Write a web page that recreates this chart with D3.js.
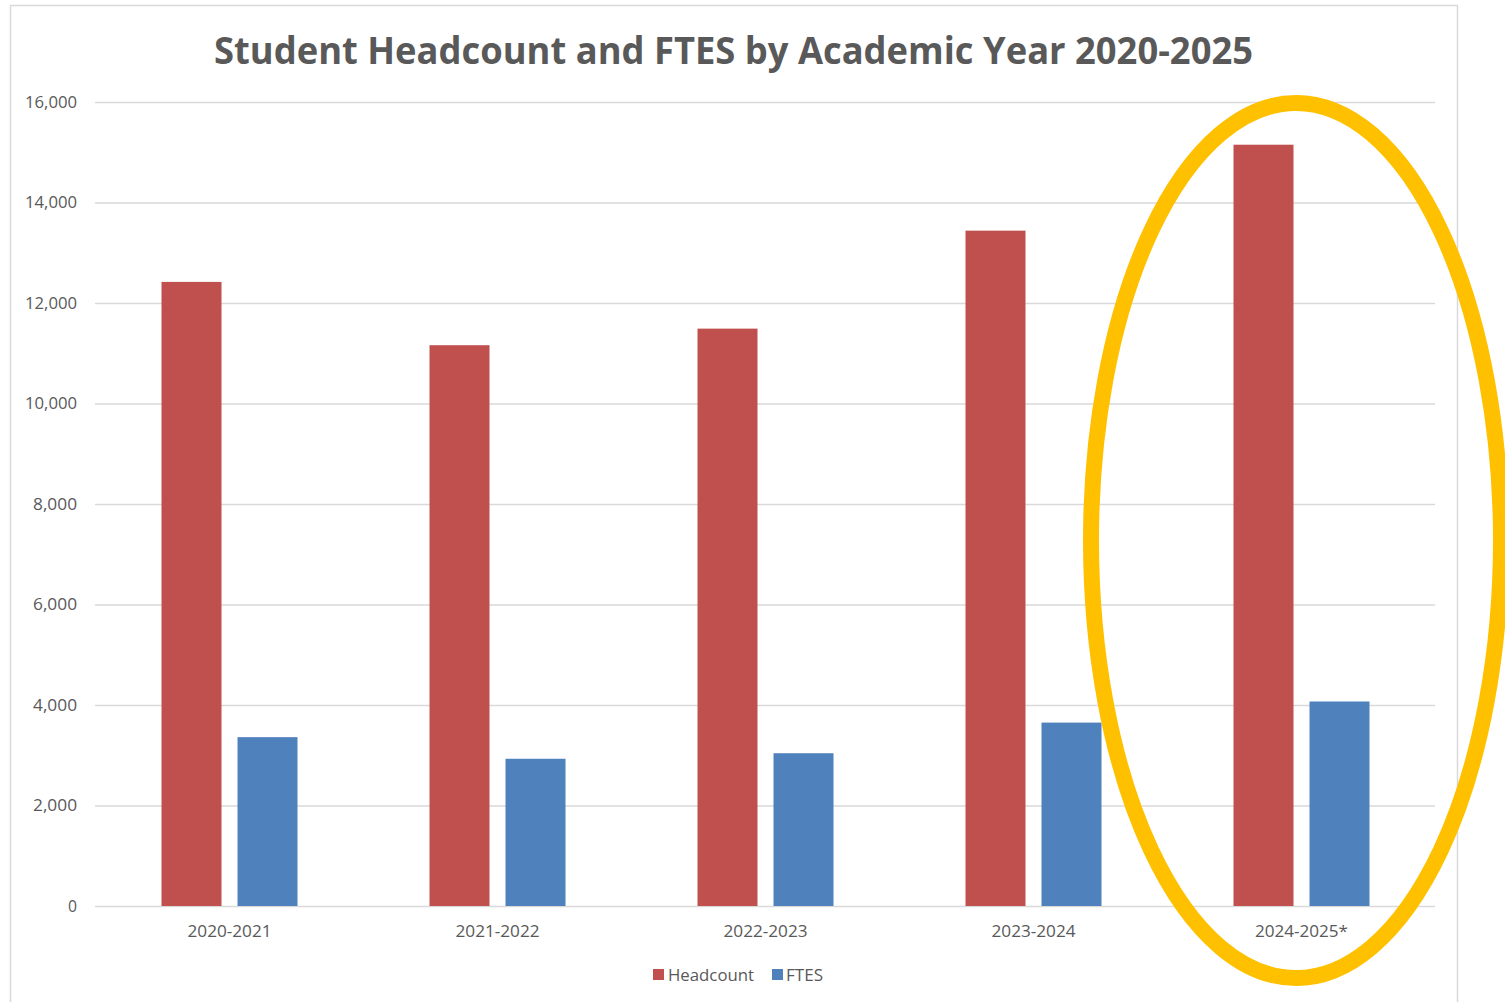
<!DOCTYPE html>
<html>
<head>
<meta charset="utf-8">
<script src="https://cdn.jsdelivr.net/npm/d3@7"></script>
<style>
  html, body { margin: 0; padding: 0; background: #ffffff; }
  svg { display: block; }
  text { font-family: "Open Sans", "Noto Sans", sans-serif; fill: #595959; }
</style>
</head>
<body>
<svg id="chart" width="1505" height="1002"></svg>
<script>
const categories = ["2020-2021", "2021-2022", "2022-2023", "2023-2024", "2024-2025*"];
const seriesNames = ["Headcount", "FTES"];
const headcount = [12420, 11160, 11490, 13440, 15150];
const ftes = [3360, 2930, 3040, 3650, 4070];
const yTicks = [0, 2000, 4000, 6000, 8000, 10000, 12000, 14000, 16000];
const colors = ["#C0504D", "#4F81BD"];
const titleText = "Student Headcount and FTES by Academic Year 2020-2025";

const svg = d3.select("#chart");
const W = 1505, H = 1002;
const plot = { left: 95, right: 1435, top: 102, bottom: 906 };

svg.append("rect").attr("x", 0).attr("y", 0).attr("width", W).attr("height", H).attr("fill", "#fff");
// chart frame
svg.append("rect").attr("x", 10.5).attr("y", 5.5).attr("width", 1447).attr("height", 1010)
  .attr("fill", "none").attr("stroke", "#d9d9d9").attr("stroke-width", 1.5);

// title
svg.append("text").attr("x", 733.5).attr("y", 64).attr("text-anchor", "middle")
  .attr("font-size", 37).attr("font-weight", "bold").attr("fill", "#595959")
  .attr("textLength", 1039).attr("lengthAdjust", "spacingAndGlyphs")
  .text(titleText);

const y = d3.scaleLinear().domain([0, 16000]).range([plot.bottom, plot.top]);
const x0 = d3.scaleBand().domain(categories).range([plot.left, plot.right]).paddingInner(0).paddingOuter(0);
const groupW = 136;
const x1 = d3.scaleBand().domain(seriesNames).range([0, groupW]).paddingInner(0.2105).paddingOuter(0);

// gridlines
const yAxis = d3.axisLeft(y).tickValues(yTicks).tickSize(-(plot.right - plot.left)).tickPadding(18)
  .tickFormat(d3.format(","));
const gy = svg.append("g").attr("transform", `translate(${plot.left},0)`).call(yAxis);
gy.select(".domain").remove();
gy.selectAll(".tick line").attr("stroke", "#d9d9d9").attr("stroke-width", 1.5);
gy.selectAll(".tick text").attr("font-size", 16).attr("fill", "#595959")
  .attr("font-family", "'Open Sans', 'Noto Sans', sans-serif")
  .each(function(d) {
    const s = d3.format(",")(d);
    const len = s.length === 1 ? 9 : (s.length === 5 ? 44 : 52);
    d3.select(this).attr("textLength", len).attr("lengthAdjust", "spacingAndGlyphs");
  });

// bars
const data = categories.map((c, i) => ({ cat: c, vals: [
  { key: "Headcount", v: headcount[i] }, { key: "FTES", v: ftes[i] }] }));
const offset = (x0.bandwidth() - groupW) / 2;
const groups = svg.append("g").selectAll("g").data(data).join("g")
  .attr("transform", d => `translate(${x0(d.cat) + offset + 0.5},0)`);
groups.selectAll("rect").data(d => d.vals).join("rect")
  .attr("x", d => x1(d.key))
  .attr("y", d => y(d.v))
  .attr("width", x1.bandwidth())
  .attr("height", d => y(0) - y(d.v))
  .attr("fill", (d, i) => colors[i]);

// x axis
const xAxis = d3.axisBottom(x0).tickSize(0).tickPadding(20);
const gx = svg.append("g").attr("transform", `translate(0.5,${plot.bottom})`).call(xAxis);
gx.select(".domain").remove();
gx.selectAll(".tick text").attr("font-size", 16).attr("fill", "#595959")
  .attr("font-family", "'Open Sans', 'Noto Sans', sans-serif")
  .attr("textLength", d => d.endsWith("*") ? 93 : 84).attr("lengthAdjust", "spacingAndGlyphs");

// legend
const legend = [
  { name: "Headcount", sx: 653, tx: 668, tl: 86 },
  { name: "FTES", sx: 772, tx: 786, tl: 37 }
];
legend.forEach((l, i) => {
  svg.append("rect").attr("x", l.sx).attr("y", 969).attr("width", 11).attr("height", 11).attr("fill", colors[i]);
  svg.append("text").attr("x", l.tx).attr("y", 981).attr("font-size", 16).attr("fill", "#595959")
    .attr("textLength", l.tl).attr("lengthAdjust", "spacingAndGlyphs").text(l.name);
});

// highlight ellipse
svg.append("ellipse").attr("cx", 1296).attr("cy", 540.5).attr("rx", 205).attr("ry", 437.5)
  .attr("fill", "none").attr("stroke", "#FFC000").attr("stroke-width", 16);
</script>
</body>
</html>
